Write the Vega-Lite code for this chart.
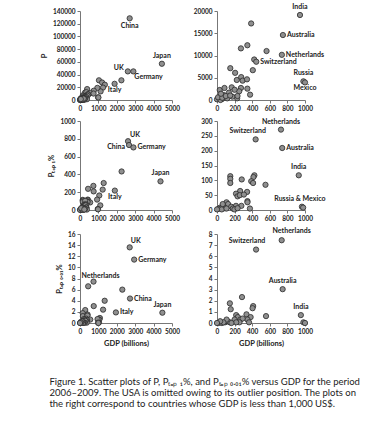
{
"$schema": "https://vega.github.io/schema/vega-lite/v6.json",
"padding": {"left": 40, "top": 3, "right": 5, "bottom": 5},
"background": "white",
"datasets": {
"p": [
{"c":"China","gdp":2700,"v":128500},{"c":"Japan","gdp":4450,"v":57000},{"c":"UK","gdp":2600,"v":45000},{"c":"Germany","gdp":2900,"v":45000},{"c":"","gdp":2250,"v":31000},{"c":"Italy","gdp":1880,"v":25500},{"c":"","gdp":1030,"v":31000},{"c":"","gdp":1200,"v":27500},{"c":"","gdp":1350,"v":24000},{"c":"","gdp":1250,"v":19500},{"c":"","gdp":1120,"v":13500},
{"c":"India","gdp":943,"v":19100},{"c":"","gdp":388,"v":17200},{"c":"Australia","gdp":749,"v":14600},{"c":"","gdp":272,"v":11600},{"c":"","gdp":345,"v":12300},{"c":"","gdp":563,"v":11000},{"c":"Netherlands","gdp":737,"v":10150},{"c":"","gdp":423,"v":9100},{"c":"Switzerland","gdp":446,"v":8600},{"c":"","gdp":407,"v":6700},{"c":"","gdp":151,"v":7150},{"c":"","gdp":206,"v":6100},{"c":"","gdp":225,"v":4500},{"c":"","gdp":275,"v":5150},{"c":"","gdp":291,"v":4350},{"c":"","gdp":341,"v":4650},{"c":"Russia","gdp":982,"v":4200},{"c":"Mexico","gdp":1000,"v":3950},{"c":"","gdp":345,"v":2550},{"c":"","gdp":376,"v":1200},{"c":"","gdp":229,"v":380},{"c":"","gdp":31,"v":2250},{"c":"","gdp":85,"v":2700},{"c":"","gdp":167,"v":2850},{"c":"","gdp":272,"v":2700},{"c":"","gdp":252,"v":1950},{"c":"","gdp":136,"v":1650},{"c":"","gdp":78,"v":1100},{"c":"","gdp":175,"v":750},{"c":"","gdp":233,"v":900},{"c":"","gdp":19,"v":300},{"c":"","gdp":58,"v":220},{"c":"","gdp":116,"v":370},{"c":"","gdp":0,"v":150},{"c":"","gdp":39,"v":0},{"c":"","gdp":12,"v":600},{"c":"","gdp":60,"v":500},{"c":"","gdp":100,"v":900},{"c":"","gdp":150,"v":1000},{"c":"","gdp":200,"v":2300},{"c":"","gdp":45,"v":1400}
],
"t1": [
{"c":"UK","gdp":2610,"v":773},{"c":"China","gdp":2665,"v":730},{"c":"Germany","gdp":2904,"v":703},{"c":"Japan","gdp":4375,"v":322},{"c":"","gdp":2261,"v":433},{"c":"Italy","gdp":1893,"v":218},{"c":"","gdp":1287,"v":303},{"c":"","gdp":1232,"v":229},{"c":"","gdp":1048,"v":163},{"c":"","gdp":1103,"v":52},
{"c":"Netherlands","gdp":727,"v":271},{"c":"Switzerland","gdp":439,"v":238},{"c":"Australia","gdp":741,"v":209},{"c":"India","gdp":929,"v":117},{"c":"Russia","gdp":965,"v":11},{"c":"Mexico","gdp":979,"v":8},
{"c":"","gdp":425,"v":117},{"c":"","gdp":414,"v":111},{"c":"","gdp":551,"v":85},{"c":"","gdp":389,"v":97},{"c":"","gdp":410,"v":91},{"c":"","gdp":151,"v":114},{"c":"","gdp":151,"v":105},{"c":"","gdp":151,"v":91},{"c":"","gdp":281,"v":103},{"c":"","gdp":342,"v":61},{"c":"","gdp":263,"v":64},{"c":"","gdp":216,"v":55},{"c":"","gdp":234,"v":46},{"c":"","gdp":259,"v":50},{"c":"","gdp":306,"v":52},{"c":"","gdp":346,"v":30},{"c":"","gdp":346,"v":26},{"c":"","gdp":374,"v":5},{"c":"","gdp":277,"v":14},{"c":"","gdp":216,"v":14},{"c":"","gdp":108,"v":26},{"c":"","gdp":126,"v":20},{"c":"","gdp":72,"v":14},{"c":"","gdp":36,"v":8},{"c":"","gdp":18,"v":4},{"c":"","gdp":90,"v":6},{"c":"","gdp":162,"v":11},{"c":"","gdp":180,"v":5},{"c":"","gdp":54,"v":2},{"c":"","gdp":0,"v":2},{"c":"","gdp":198,"v":2},{"c":"","gdp":108,"v":5},{"c":"","gdp":65,"v":20},{"c":"","gdp":234,"v":6}
],
"t01": [
{"c":"UK","gdp":2700,"v":13.6},{"c":"Germany","gdp":2944,"v":11.4},{"c":"","gdp":2300,"v":6.0},{"c":"China","gdp":2718,"v":4.4},{"c":"Japan","gdp":4477,"v":1.85},{"c":"Italy","gdp":1951,"v":1.9},{"c":"","gdp":1341,"v":4.0},{"c":"","gdp":1254,"v":2.4},{"c":"","gdp":1080,"v":0.9},{"c":"","gdp":1050,"v":0.6},{"c":"","gdp":1030,"v":0.1},
{"c":"Netherlands","gdp":735,"v":7.44},{"c":"Switzerland","gdp":444,"v":6.6},{"c":"Australia","gdp":746,"v":3.04},{"c":"India","gdp":953,"v":0.71},{"c":"Russia","gdp":982,"v":0.06},{"c":"Mexico","gdp":1000,"v":0},
{"c":"","gdp":284,"v":2.33},{"c":"","gdp":146,"v":1.77},{"c":"","gdp":156,"v":1.24},{"c":"","gdp":411,"v":1.52},{"c":"","gdp":404,"v":1.33},{"c":"","gdp":557,"v":0.62},{"c":"","gdp":335,"v":0.78},{"c":"","gdp":382,"v":0.53},{"c":"","gdp":346,"v":0.31},{"c":"","gdp":364,"v":0.06},{"c":"","gdp":218,"v":0.71},{"c":"","gdp":237,"v":0.53},{"c":"","gdp":266,"v":0.31},{"c":"","gdp":200,"v":0.31},{"c":"","gdp":291,"v":0.4},{"c":"","gdp":255,"v":0.06},{"c":"","gdp":218,"v":0.06},{"c":"","gdp":18,"v":0},{"c":"","gdp":55,"v":0},{"c":"","gdp":91,"v":0.06},{"c":"","gdp":120,"v":0.16},{"c":"","gdp":146,"v":0.06},{"c":"","gdp":164,"v":0},{"c":"","gdp":109,"v":0.31},{"c":"","gdp":73,"v":0.06},{"c":"","gdp":36,"v":0.16},{"c":"","gdp":0,"v":0}
]
},
"title": {"text": ["Figure 1. Scatter plots of P, Pₜₒₚ ₁%, and Pₜₒₚ ₀.₀₁% versus GDP for the period", "2006–2009. The USA is omitted owing to its outlier position. The plots on", "the right correspond to countries whose GDP is less than 1,000 US$."], "orient": "bottom", "anchor": "start", "font": "Lato", "fontSize": 9.5, "fontWeight": "normal", "color": "#222", "lineHeight": 10.8, "offset": 30, "dx": 9},
"columns": 2,
"align": "each",
"spacing": {"row": 5, "column": 13},
"concat": [
{"width": 92, "height": 89, "data": {"name": "p"},
 "encoding": {"x": {"field": "gdp", "type": "quantitative", "scale": {"domain": [0, 5000], "nice": false}, "axis": {"values": [0,1000,2000,3000,4000,5000], "format": "d", "title": null}},
  "y": {"field": "v", "type": "quantitative", "scale": {"domain": [0, 140000], "nice": false}, "axis": {"values": [0,20000,40000,60000,80000,100000,120000,140000], "format": "d", "title": "P"}}},
 "layer": [
  {"mark": {"type": "circle", "size": 28, "color": "#8f8f8f", "stroke": "#2a2a2a", "strokeWidth": 0.8, "opacity": 1}},
  {"transform": [{"filter": {"field": "c", "oneOf": ["China"]}}], "mark": {"type": "text", "color": "#222", "baseline": "middle", "dy": 8, "fontWeight": "bold", "fontSize": 7}, "encoding": {"text": {"field": "c"}}},
  {"transform": [{"filter": {"field": "c", "oneOf": ["Italy"]}}], "mark": {"type": "text", "color": "#222", "baseline": "middle", "dy": 6, "fontWeight": "bold", "fontSize": 7}, "encoding": {"text": {"field": "c"}}},
  {"transform": [{"filter": {"field": "c", "oneOf": ["Japan"]}}], "mark": {"type": "text", "color": "#222", "baseline": "middle", "dy": -8, "fontWeight": "bold", "fontSize": 7}, "encoding": {"text": {"field": "c"}}},
  {"transform": [{"filter": {"field": "c", "oneOf": ["UK"]}}], "mark": {"type": "text", "color": "#222", "baseline": "middle", "align": "right", "dx": -4, "dy": -3, "fontWeight": "bold", "fontSize": 7}, "encoding": {"text": {"field": "c"}}},
  {"transform": [{"filter": {"field": "c", "oneOf": ["Germany"]}}], "mark": {"type": "text", "color": "#222", "baseline": "middle", "align": "left", "dx": 1, "dy": 6, "fontWeight": "bold", "fontSize": 7}, "encoding": {"text": {"field": "c"}}}
 ]},
{"width": 88, "height": 89, "data": {"name": "p"}, "transform": [{"filter": "datum.gdp <= 1000"}],
 "encoding": {"x": {"field": "gdp", "type": "quantitative", "scale": {"domain": [0, 1000], "nice": false}, "axis": {"values": [0,200,400,600,800,1000], "format": "d", "title": null}},
  "y": {"field": "v", "type": "quantitative", "scale": {"domain": [0, 20000], "nice": false}, "axis": {"values": [0,5000,10000,15000,20000], "format": "d", "title": null}}},
 "layer": [
  {"mark": {"type": "circle", "size": 28, "color": "#8f8f8f", "stroke": "#2a2a2a", "strokeWidth": 0.8, "opacity": 1}},
  {"transform": [{"filter": {"field": "c", "oneOf": ["India", "Russia"]}}], "mark": {"type": "text", "color": "#222", "baseline": "middle", "dy": -8, "fontWeight": "bold", "fontSize": 7}, "encoding": {"text": {"field": "c"}}},
  {"transform": [{"filter": {"field": "c", "oneOf": ["Mexico"]}}], "mark": {"type": "text", "color": "#222", "baseline": "middle", "dy": 6, "fontWeight": "bold", "fontSize": 7}, "encoding": {"text": {"field": "c"}}},
  {"transform": [{"filter": {"field": "c", "oneOf": ["Australia", "Netherlands", "Switzerland"]}}], "mark": {"type": "text", "color": "#222", "baseline": "middle", "align": "left", "dx": 4, "fontWeight": "bold", "fontSize": 7}, "encoding": {"text": {"field": "c"}}}
 ]},
{"width": 92, "height": 89, "data": {"name": "t1"},
 "encoding": {"x": {"field": "gdp", "type": "quantitative", "scale": {"domain": [0, 5000], "nice": false}, "axis": {"values": [0,1000,2000,3000,4000,5000], "format": "d", "title": null}},
  "y": {"field": "v", "type": "quantitative", "scale": {"domain": [0, 1000], "nice": false}, "axis": {"values": [0,200,400,600,800,1000], "format": "d", "title": "Pₜₒₚ ₁%"}}},
 "layer": [
  {"mark": {"type": "circle", "size": 28, "color": "#8f8f8f", "stroke": "#2a2a2a", "strokeWidth": 0.8, "opacity": 1}},
  {"transform": [{"filter": {"field": "c", "oneOf": ["UK"]}}], "mark": {"type": "text", "color": "#222", "baseline": "middle", "align": "left", "dx": 2, "dy": -6, "fontWeight": "bold", "fontSize": 7}, "encoding": {"text": {"field": "c"}}},
  {"transform": [{"filter": {"field": "c", "oneOf": ["China"]}}], "mark": {"type": "text", "color": "#222", "baseline": "middle", "align": "right", "dx": -4, "dy": 2, "fontWeight": "bold", "fontSize": 7}, "encoding": {"text": {"field": "c"}}},
  {"transform": [{"filter": {"field": "c", "oneOf": ["Germany"]}}], "mark": {"type": "text", "color": "#222", "baseline": "middle", "align": "left", "dx": 4, "fontWeight": "bold", "fontSize": 7}, "encoding": {"text": {"field": "c"}}},
  {"transform": [{"filter": {"field": "c", "oneOf": ["Japan"]}}], "mark": {"type": "text", "color": "#222", "baseline": "middle", "dy": -8, "fontWeight": "bold", "fontSize": 7}, "encoding": {"text": {"field": "c"}}},
  {"transform": [{"filter": {"field": "c", "oneOf": ["Italy"]}}], "mark": {"type": "text", "color": "#222", "baseline": "middle", "dy": 6, "fontWeight": "bold", "fontSize": 7}, "encoding": {"text": {"field": "c"}}}
 ]},
{"width": 88, "height": 89, "data": {"name": "t1"}, "transform": [{"filter": "datum.gdp <= 1000"}],
 "encoding": {"x": {"field": "gdp", "type": "quantitative", "scale": {"domain": [0, 1000], "nice": false}, "axis": {"values": [0,200,400,600,800,1000], "format": "d", "title": null}},
  "y": {"field": "v", "type": "quantitative", "scale": {"domain": [0, 300], "nice": false}, "axis": {"values": [0,50,100,150,200,250,300], "format": "d", "title": null}}},
 "layer": [
  {"mark": {"type": "circle", "size": 28, "color": "#8f8f8f", "stroke": "#2a2a2a", "strokeWidth": 0.8, "opacity": 1}},
  {"transform": [{"filter": {"field": "c", "oneOf": ["Netherlands", "India"]}}], "mark": {"type": "text", "color": "#222", "baseline": "middle", "dy": -8, "fontWeight": "bold", "fontSize": 7}, "encoding": {"text": {"field": "c"}}},
  {"transform": [{"filter": {"field": "c", "oneOf": ["Switzerland"]}}], "mark": {"type": "text", "color": "#222", "baseline": "middle", "dx": -8, "dy": -8, "fontWeight": "bold", "fontSize": 7}, "encoding": {"text": {"field": "c"}}},
  {"transform": [{"filter": {"field": "c", "oneOf": ["Australia"]}}], "mark": {"type": "text", "color": "#222", "baseline": "middle", "align": "left", "dx": 4, "fontWeight": "bold", "fontSize": 7}, "encoding": {"text": {"field": "c"}}},
  {"transform": [{"filter": {"field": "c", "oneOf": ["Russia"]}}], "mark": {"type": "text", "color": "#222", "baseline": "middle", "dx": -2, "dy": -8, "fontWeight": "bold", "fontSize": 7}, "encoding": {"text": {"value": "Russia & Mexico"}}}
 ]},
{"width": 92, "height": 89, "data": {"name": "t01"},
 "encoding": {"x": {"field": "gdp", "type": "quantitative", "scale": {"domain": [0, 5000], "nice": false}, "axis": {"values": [0,1000,2000,3000,4000,5000], "format": "d", "title": "GDP (billions)"}},
  "y": {"field": "v", "type": "quantitative", "scale": {"domain": [0, 16], "nice": false}, "axis": {"values": [0,2,4,6,8,10,12,14,16], "format": "d", "title": "Pₜₒₚ ₀.₀₁%"}}},
 "layer": [
  {"mark": {"type": "circle", "size": 28, "color": "#8f8f8f", "stroke": "#2a2a2a", "strokeWidth": 0.8, "opacity": 1}},
  {"transform": [{"filter": {"field": "c", "oneOf": ["UK"]}}], "mark": {"type": "text", "color": "#222", "baseline": "middle", "align": "left", "dx": 1, "dy": -6, "fontWeight": "bold", "fontSize": 7}, "encoding": {"text": {"field": "c"}}},
  {"transform": [{"filter": {"field": "c", "oneOf": ["Germany", "China", "Italy"]}}], "mark": {"type": "text", "color": "#222", "baseline": "middle", "align": "left", "dx": 4, "fontWeight": "bold", "fontSize": 7}, "encoding": {"text": {"field": "c"}}},
  {"transform": [{"filter": {"field": "c", "oneOf": ["Netherlands"]}}], "mark": {"type": "text", "color": "#222", "baseline": "middle", "dx": 7, "dy": -6, "fontWeight": "bold", "fontSize": 7}, "encoding": {"text": {"field": "c"}}},
  {"transform": [{"filter": {"field": "c", "oneOf": ["Japan"]}}], "mark": {"type": "text", "color": "#222", "baseline": "middle", "dy": -8, "fontWeight": "bold", "fontSize": 7}, "encoding": {"text": {"field": "c"}}}
 ]},
{"width": 88, "height": 89, "data": {"name": "t01"}, "transform": [{"filter": "datum.gdp <= 1000"}],
 "encoding": {"x": {"field": "gdp", "type": "quantitative", "scale": {"domain": [0, 1000], "nice": false}, "axis": {"values": [0,200,400,600,800,1000], "format": "d", "title": "GDP (billions)"}},
  "y": {"field": "v", "type": "quantitative", "scale": {"domain": [0, 8], "nice": false}, "axis": {"values": [0,1,2,3,4,5,6,7,8], "format": "d", "title": null}}},
 "layer": [
  {"mark": {"type": "circle", "size": 28, "color": "#8f8f8f", "stroke": "#2a2a2a", "strokeWidth": 0.8, "opacity": 1}},
  {"transform": [{"filter": {"field": "c", "oneOf": ["Netherlands"]}}], "mark": {"type": "text", "color": "#222", "baseline": "middle", "dx": 10, "dy": -9, "fontWeight": "bold", "fontSize": 7}, "encoding": {"text": {"field": "c"}}},
  {"transform": [{"filter": {"field": "c", "oneOf": ["Switzerland"]}}], "mark": {"type": "text", "color": "#222", "baseline": "middle", "dx": -9, "dy": -9, "fontWeight": "bold", "fontSize": 7}, "encoding": {"text": {"field": "c"}}},
  {"transform": [{"filter": {"field": "c", "oneOf": ["Australia", "India"]}}], "mark": {"type": "text", "color": "#222", "baseline": "middle", "dy": -8, "fontWeight": "bold", "fontSize": 7}, "encoding": {"text": {"field": "c"}}}
 ]}
],
"config": {
 "view": {"stroke": null},
 "font": "Lato",
 "text": {"font": "Lato", "color": "#222"},
 "axis": {"grid": false, "domainColor": "#777", "tickColor": "#777", "tickSize": 3, "labelFont": "Lato", "labelFontWeight": "bold", "labelFontSize": 6.5, "labelColor": "#222", "labelPadding": 2, "labelFlush": false, "labelOverlap": false, "titleFont": "Lato", "titleFontWeight": "bold", "titleFontSize": 7.5, "titleColor": "#222"},
 "axisY": {"titlePadding": 4},
 "axisX": {"titlePadding": 5}
}
}
